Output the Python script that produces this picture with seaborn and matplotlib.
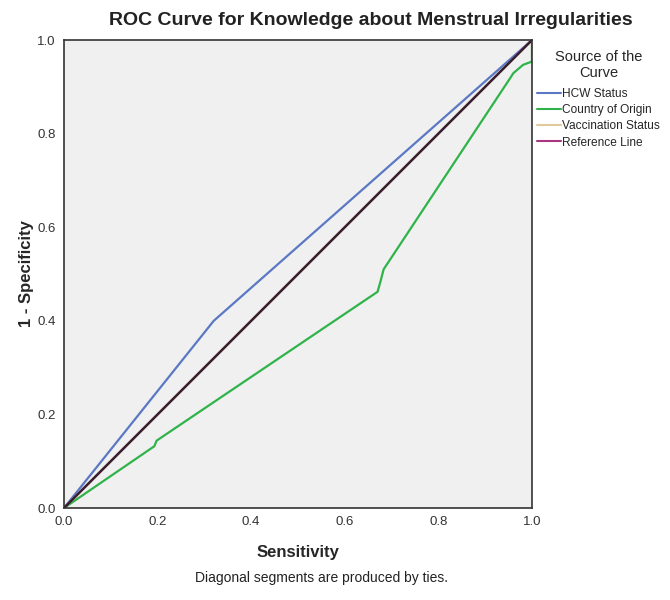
import pandas as pd
import seaborn as sns
import matplotlib.pyplot as plt
from matplotlib.lines import Line2D

# ROC-kurvor
hcw_x = [0.0, 0.32, 1.0]
hcw_y = [0.0, 0.40, 1.0]

country_x = [0.0, 0.193, 0.198, 0.67, 0.676, 0.683, 0.953, 0.96, 0.981, 1.0, 1.0]
country_y = [0.0, 0.132, 0.144, 0.462, 0.483, 0.51, 0.918, 0.929, 0.947, 0.954, 1.0]

vacc_x = [0.0, 1.0]
vacc_y = [0.0, 1.0]

ref_x = [0.0, 1.0]
ref_y = [0.0, 1.0]

names = ['HCW Status', 'Country of Origin', 'Vaccination Status', 'Reference Line']
colors = ['#5b78c4', '#2fb34a', '#e0c99a', '#a8377f']

frames = []
for name, xs, ys in zip(names, [hcw_x, country_x, vacc_x, ref_x], [hcw_y, country_y, vacc_y, ref_y]):
    frames.append(pd.DataFrame({'x': xs, 'y': ys, 'curve': name}))
df = pd.concat(frames, ignore_index=True)

sns.set_style('white')
plt.rcParams['font.family'] = ['Liberation Sans', 'DejaVu Sans']

fig = plt.figure(figsize=(6.7, 6.0), dpi=100)
ax = fig.add_axes([0.0955, 0.1533, 0.6985, 0.78])
ax.set_facecolor('#f0f0f0')

for name, col in zip(names, colors):
    sub = df[df['curve'] == name]
    # referenslinjen ligger ovanpå vaccinationslinjen -> ser nästan svart ut
    c = '#3a1e30' if name == 'Reference Line' else col
    sns.lineplot(data=sub, x='x', y='y', sort=False, color=c, lw=1.6 if name != 'Reference Line' else 1.8,
                 ax=ax, estimator=None)

ax.set_xlim(0, 1)
ax.set_ylim(0, 1)
ax.set_xticks([0, 0.2, 0.4, 0.6, 0.8, 1.0])
ax.set_yticks([0, 0.2, 0.4, 0.6, 0.8, 1.0])
ax.set_xticklabels(['0.0', '0.2', '0.4', '0.6', '0.8', '1.0'])
ax.set_yticklabels(['0.0', '0.2', '0.4', '0.6', '0.8', '1.0'])
ax.tick_params(direction='out', length=4, width=1, labelsize=9.5, color='#222222', labelcolor='#333333', pad=2)
for s in ax.spines.values():
    s.set_color('#333333')
    s.set_linewidth(1.2)

ax.set_xlabel('Sensitivity', fontsize=12, fontweight='bold', labelpad=12)
ax.set_ylabel('1 - Specificity', fontsize=12, fontweight='bold', labelpad=2)
fig.text(0.554, 0.966, 'ROC Curve for Knowledge about Menstrual Irregularities', ha='center', va='center',
         fontsize=14, fontweight='bold', color='#222222')

handles = [Line2D([0], [0], color=c, lw=1.5) for c in colors]
leg = ax.legend(handles, names, title='Source of the\nCurve', loc='upper left', bbox_to_anchor=(0.995, 0.995),
                frameon=False, fontsize=8.6, title_fontsize=10.5, handlelength=2.0, handletextpad=0.15,
                labelspacing=0.35, borderaxespad=0.2)
leg.get_title().set_multialignment('center')
leg._legend_box.sep = 6

fig.text(0.48, 0.03, 'Diagonal segments are produced by ties.', ha='center', fontsize=10, color='#222222')

fig.savefig('out.png', dpi=100)
